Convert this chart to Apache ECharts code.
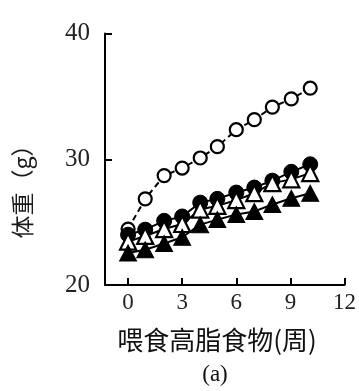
<!DOCTYPE html>
<html>
<head>
<meta charset="utf-8">
<script src="https://cdn.jsdelivr.net/npm/echarts@6/dist/echarts.min.js"></script>
<style>
html,body{margin:0;padding:0;background:#fff;}
#c{width:359px;height:391px;}
</style>
</head>
<body>
<div id="c"></div>
<script>
const weeks = [0, 0.95, 2, 3, 4, 4.95, 6, 7, 8, 9.05, 10.1];
const openCircle = [24.45, 26.85, 28.7, 29.3, 30.1, 31.0, 32.35, 33.15, 34.15, 34.8, 35.65];
const filledCircle = [24.0, 24.4, 25.1, 25.45, 26.55, 26.85, 27.35, 27.75, 28.3, 29.0, 29.6];
const openTriangle = [23.45, 23.9, 24.45, 24.85, 26.0, 26.3, 26.75, 27.3, 28.1, 28.4, 28.9];
const filledTriangle = [22.55, 22.8, 23.3, 23.8, 24.8, 25.2, 25.6, 25.85, 26.4, 26.9, 27.3];
const xTicks = [0, 3, 6, 9, 12];
const yTicks = [20, 30, 40];

const pair = ys => ys.map((v, i) => [weeks[i], v]);
const serif = '"Liberation Serif", "DejaVu Serif", serif';
const cjk = '"Noto Sans CJK SC", sans-serif';

const chart = echarts.init(document.getElementById('c'), null, {renderer: 'canvas'});
chart.setOption({
  animation: false,
  backgroundColor: '#fff',
  grid: {left: 105, right: 12, top: 33.5, bottom: 106, containLabel: false},
  xAxis: {
    type: 'value', min: -1.28, max: 12,
    axisLine: {show: true, onZero: false, lineStyle: {color: '#000', width: 2}},
    axisTick: {show: true, inside: true, length: 7, lineStyle: {color: '#000', width: 2}, customValues: xTicks},
    axisLabel: {customValues: xTicks, margin: 6, fontSize: 23, fontFamily: serif, color: '#222'},
    splitLine: {show: false}
  },
  yAxis: {
    type: 'value', min: 20, max: 40, interval: 10,
    axisLine: {show: true, onZero: false, lineStyle: {color: '#000', width: 2}},
    axisTick: {show: true, inside: true, length: 7, lineStyle: {color: '#000', width: 2}},
    axisLabel: {margin: 15, fontSize: 25, fontFamily: serif, color: '#222',
      formatter: v => yTicks.includes(v) ? String(v) : ''},
    splitLine: {show: false}
  },
  graphic: [
    {type: 'text', x: 22, y: 186, rotation: Math.PI / 2,
      style: {text: '体重（g）', fontSize: 23, fontFamily: cjk, fill: '#1a1a1a', textAlign: 'center', textVerticalAlign: 'middle'}},
    {type: 'text', x: 217, y: 340,
      style: {text: '喂食高脂食物(周)', fontSize: 26, fontFamily: cjk, fill: '#111', textAlign: 'center', textVerticalAlign: 'middle'}},
    {type: 'text', x: 215, y: 375,
      style: {text: '(a)', fontSize: 23, fontFamily: serif, fill: '#111', textAlign: 'center', textVerticalAlign: 'middle'}}
  ],
  series: [
    {type: 'line', data: pair(openCircle), symbol: 'circle', symbolSize: 13,
      lineStyle: {color: '#000', width: 2, type: [6, 4]},
      itemStyle: {color: '#fff', borderColor: '#000', borderWidth: 2.2}, z: 2},
    {type: 'line', data: pair(filledCircle), symbol: 'circle', symbolSize: 15,
      lineStyle: {color: '#000', width: 2},
      itemStyle: {color: '#000', borderColor: '#000', borderWidth: 1}, z: 3},
    {type: 'line', data: pair(openTriangle), symbol: 'triangle', symbolSize: [16, 16],
      lineStyle: {color: '#000', width: 2},
      itemStyle: {color: '#fff', borderColor: '#000', borderWidth: 2.2}, z: 4},
    {type: 'line', data: pair(filledTriangle), symbol: 'triangle', symbolSize: [17, 16],
      lineStyle: {color: '#000', width: 2},
      itemStyle: {color: '#000', borderColor: '#000', borderWidth: 1}, z: 5}
  ]
});
</script>
</body>
</html>
